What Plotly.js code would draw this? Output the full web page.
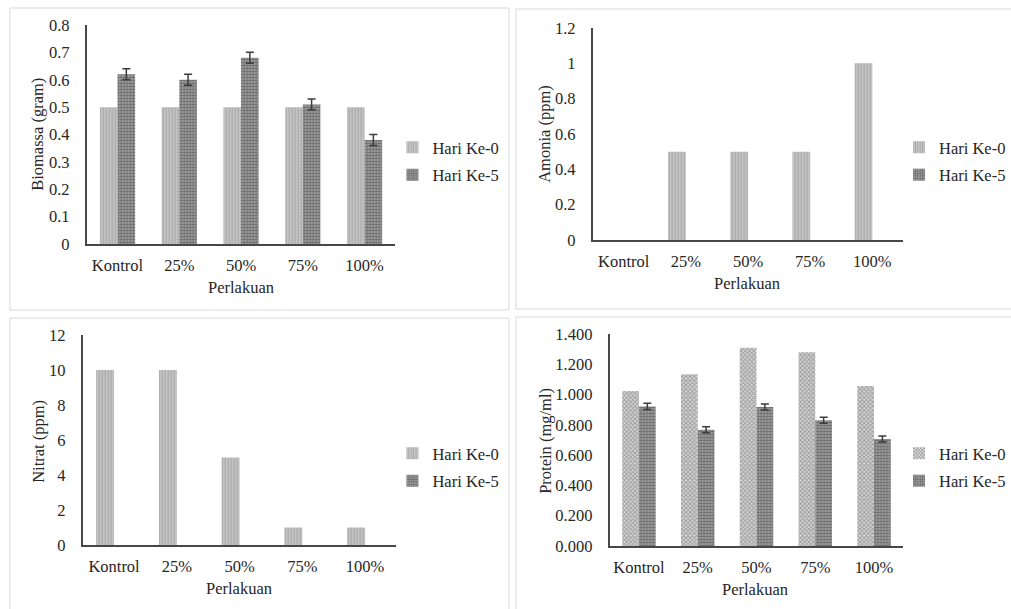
<!DOCTYPE html>
<html><head><meta charset="utf-8">
<script src="https://cdn.plot.ly/plotly-3.0.1.min.js"></script>
<style>html,body{margin:0;padding:0;background:#fff}#chart{width:1011px;height:609px}</style>
</head><body><div id="chart"></div><script>
const categories = ['Kontrol', '25%', '50%', '75%', '100%'];
const seriesNames = ['Hari Ke-0', 'Hari Ke-5'];
const xTitle = 'Perlakuan';
const yTitles = ['Biomassa (gram)', 'Amonia (ppm)', 'Nitrat (ppm)', 'Protein (mg/ml)'];

const biomassaDay0 = [0.5, 0.5, 0.5, 0.5, 0.5];
const biomassaDay5 = [0.62, 0.60, 0.68, 0.51, 0.38];
const biomassaDay5Err = [0.02, 0.02, 0.02, 0.02, 0.02];

const amoniaDay0 = [0, 0.5, 0.5, 0.5, 1.0];
const amoniaDay5 = [0, 0, 0, 0, 0];

const nitratDay0 = [10, 10, 5, 1, 1];
const nitratDay5 = [0, 0, 0, 0, 0];

const proteinDay0 = [1.024, 1.134, 1.31, 1.28, 1.057];
const proteinDay5 = [0.922, 0.768, 0.918, 0.83, 0.707];
const proteinDay5Err = [0.02, 0.02, 0.02, 0.02, 0.02];

const W = 1011, H = 609;
const px = x => x / W;
const py = y => 1 - y / H;
const FONT = 'Liberation Serif';
const FS = 16.5;
const TXT = '#262626';

const light = {color: '#cdcdcd', pattern: {shape: '|', fillmode: 'overlay', bgcolor: '#cdcdcd', fgcolor: '#808080', size: 3, solidity: 0.5}};
const dark = {color: '#9a9a9a', pattern: {shape: '+', fillmode: 'overlay', bgcolor: '#9a9a9a', fgcolor: '#474747', size: 3, solidity: 0.5}};
const checker = {color: '#d6d6d6', pattern: {shape: 'x', fillmode: 'overlay', bgcolor: '#d6d6d6', fgcolor: '#606060', size: 3, solidity: 0.5}};

const errStyle = arr => ({type: 'data', array: arr, visible: true, color: '#3c3c3c', thickness: 1.5, width: 4});

function pair(ax, leg, d0, d5, err5, m0) {
  const sfx = ax === 1 ? '' : String(ax);
  const t0 = {type: 'bar', x: categories, y: d0, name: seriesNames[0], xaxis: 'x' + sfx, yaxis: 'y' + sfx,
    legend: leg, legendgroup: 'a' + ax, marker: Object.assign({line: {width: 0}}, m0), hoverinfo: 'skip'};
  const t5 = {type: 'bar', x: categories, y: d5, name: seriesNames[1], xaxis: 'x' + sfx, yaxis: 'y' + sfx,
    legend: leg, legendgroup: 'b' + ax, marker: Object.assign({line: {width: 0}}, dark), hoverinfo: 'skip'};
  if (err5) t5.error_y = errStyle(err5);
  return [t0, t5];
}

const data = [].concat(
  pair(1, 'legend', biomassaDay0, biomassaDay5, biomassaDay5Err, light),
  pair(2, 'legend2', amoniaDay0, amoniaDay5, null, light),
  pair(3, 'legend3', nitratDay0, nitratDay5, null, light),
  pair(4, 'legend4', proteinDay0, proteinDay5, proteinDay5Err, checker)
);

function xax(x0, x1, y0, anchor) {
  return {domain: [px(x0), px(x1)], anchor: anchor, type: 'category', range: [-0.5, 4.5],
    showline: true, linecolor: '#474747', linewidth: 1.8, ticks: '', showgrid: false, zeroline: false,
    tickfont: {family: FONT, size: FS, color: TXT}, ticklabelstandoff: 5, fixedrange: true};
}
function yax(yTop, yBot, anchor, range, dtick, fmt) {
  const a = {domain: [py(yBot), py(yTop)], anchor: anchor, range: range, dtick: dtick, tick0: 0,
    showline: true, linecolor: '#474747', linewidth: 1.8, ticks: '', showgrid: false, zeroline: false,
    tickfont: {family: FONT, size: FS, color: TXT}, ticklabelstandoff: 12, fixedrange: true};
  if (fmt) a.tickformat = fmt;
  return a;
}

function legendAt(x, yc) {
  return {x: px(x), y: py(yc), xanchor: 'left', yanchor: 'middle', bgcolor: 'rgba(0,0,0,0)',
    font: {family: FONT, size: FS, color: TXT}, tracegroupgap: 3, traceorder: 'grouped', borderwidth: 0};
}

function ann(text, x, y, rot) {
  return {text: text, xref: 'paper', yref: 'paper', x: px(x), y: py(y), showarrow: false,
    xanchor: 'center', yanchor: 'middle', textangle: rot || 0, font: {family: FONT, size: FS, color: TXT}};
}

function border(x0, y0, x1, y1) {
  return {type: 'rect', xref: 'paper', yref: 'paper', x0: px(x0), x1: px(x1), y0: py(y1), y1: py(y0),
    line: {color: '#d9d9d9', width: 1}, fillcolor: 'rgba(0,0,0,0)', layer: 'below'};
}

const layout = {
  width: W, height: H, margin: {l: 0, r: 0, t: 0, b: 0},
  font: {family: FONT, size: FS, color: TXT},
  paper_bgcolor: '#ffffff', plot_bgcolor: 'rgba(0,0,0,0)',
  barmode: 'group', bargap: 0.43, bargroupgap: 0,
  showlegend: true,
  xaxis: xax(87, 397, 244, 'y'),
  yaxis: yax(25, 244, 'x', [0, 0.8], 0.1),
  xaxis2: xax(595, 907, 240, 'y2'),
  yaxis2: yax(28, 240, 'x2', [0, 1.2], 0.2),
  xaxis3: xax(83, 398, 545, 'y3'),
  yaxis3: yax(335, 545, 'x3', [0, 12], 2),
  xaxis4: xax(612, 907, 546, 'y4'),
  yaxis4: yax(334, 546, 'x4', [0, 1.4], 0.2, '.3f'),
  legend: legendAt(394, 161),
  legend2: legendAt(903, 161),
  legend3: legendAt(394, 467),
  legend4: legendAt(903, 467),
  annotations: [
    ann(yTitles[0], 38, 134, -90), ann(xTitle, 242, 287),
    ann(yTitles[1], 547, 134, -90), ann(xTitle, 750, 283),
    ann(yTitles[2], 38, 441, -90), ann(xTitle, 240, 588),
    ann(yTitles[3], 547, 441, -90), ann(xTitle, 758, 589)
  ],
  shapes: [
    border(10, 8, 511, 310),
    border(518, 9, 1020, 309),
    border(10, 318, 511, 620),
    border(518, 317, 1020, 620)
  ]
};

Plotly.newPlot('chart', data, layout, {displayModeBar: false, staticPlot: true});
</script></body></html>
